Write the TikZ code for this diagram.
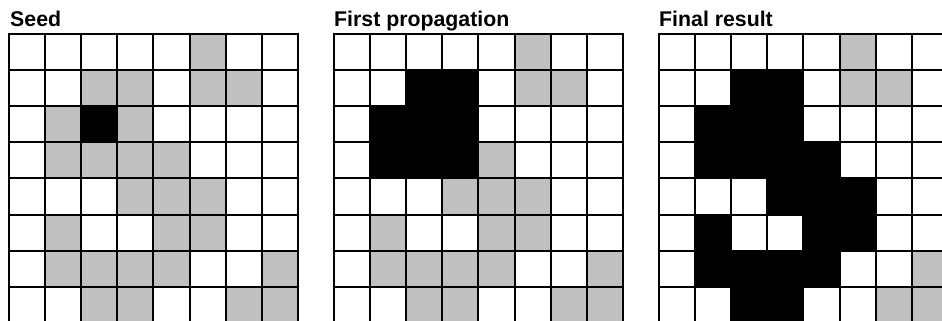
\documentclass[tikz,border=0pt]{standalone}
\usepackage{fontspec}
\setmainfont{Liberation Sans}
\definecolor{cellgray}{RGB}{192,192,192}
\newcommand\mygrid[3]{%
  \foreach \c/\r in {#2} {\fill[gcell] (#1+\c*36.1, 34+\r*36.1) rectangle ++(36.1,36.1);}
  \foreach \c/\r in {#3} {\fill[bcell] (#1+\c*36.1, 34+\r*36.1) rectangle ++(36.1,36.1);}
  \foreach \i in {0,...,8} {
    \draw[gridline] (#1+\i*36.1,34) -- ++(0,8*36.1);
    \draw[gridline] (#1,34+\i*36.1) -- ++(8*36.1,0);
  }%
}
\begin{document}
\begin{tikzpicture}[x=1pt,y=-1pt,
  title/.style={anchor=base west, inner sep=0pt, font=\fontsize{21.3}{25}\selectfont\bfseries},
  gridline/.style={line width=2pt, black, line cap=rect},
  gcell/.style={fill=cellgray},
  bcell/.style={fill=black}]
\clip (0,0) rectangle (942,321);
\fill[white] (0,0) rectangle (942,321);
\node[title] (t1) at (10,27) {Seed};
\node[title] (t2) at (334,27) {First propagation};
\node[title] (t3) at (659,27) {Final result};
\mygrid{9}{5/0,2/1,3/1,5/1,6/1,1/2,3/2,1/3,2/3,3/3,4/3,3/4,4/4,5/4,1/5,4/5,5/5,1/6,2/6,3/6,4/6,7/6,2/7,3/7,6/7,7/7}{2/2}
\mygrid{334}{5/0,5/1,6/1,4/3,3/4,4/4,5/4,1/5,4/5,5/5,1/6,2/6,3/6,4/6,7/6,2/7,3/7,6/7,7/7}{2/1,3/1,1/2,2/2,3/2,1/3,2/3,3/3}
\mygrid{659}{5/0,5/1,6/1,7/6,6/7,7/7}{2/1,3/1,1/2,2/2,3/2,1/3,2/3,3/3,4/3,3/4,4/4,5/4,1/5,4/5,5/5,1/6,2/6,3/6,4/6,2/7,3/7}
\end{tikzpicture}
\end{document}
